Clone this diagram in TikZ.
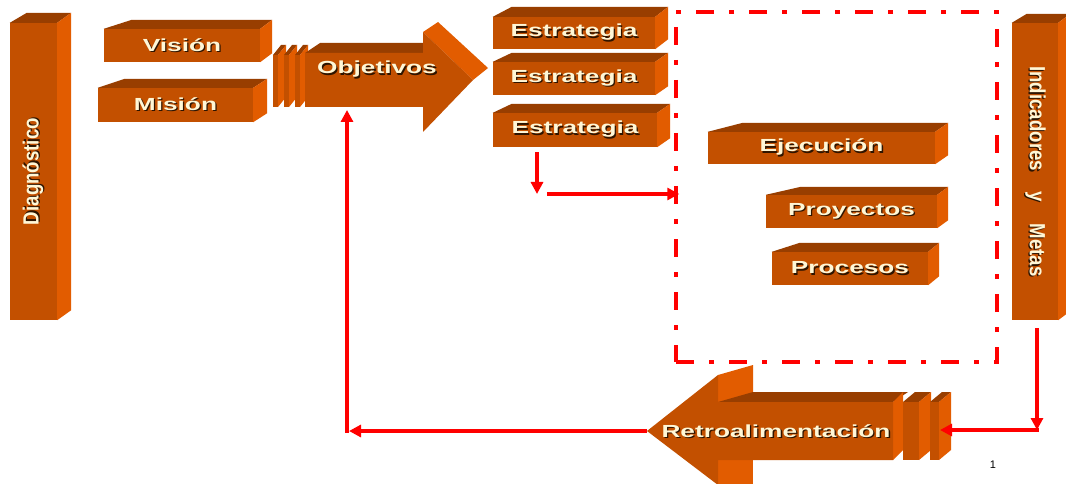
\documentclass[tikz,border=0pt]{standalone}
\usepackage{fontspec}
\setmainfont{Liberation Sans}
\newfontfamily\labfont[FakeStretch=1.5]{Liberation Sans}
\newfontfamily\narrowfont[FakeStretch=0.85]{Liberation Sans}
\usetikzlibrary{arrows.meta,calc}
\definecolor{frontc}{RGB}{195,80,0}
\definecolor{topc}{RGB}{152,62,0}
\definecolor{sidec}{RGB}{226,92,0}
\definecolor{labc}{RGB}{255,247,214}
\definecolor{shadowc}{RGB}{45,20,0}
\newcommand{\shtext}[1]{\makebox[0pt][l]{\hspace{1.3pt}\raisebox{-1.3pt}{\color{shadowc}#1}}#1}
% top and right faces of a box node: node, left dx, right dx, dy
\newcommand{\boxfaces}[4]{%
  \fill[topc] (#1.north west) -- ++(#2,#4) -- ($(#1.north east)+(#3,#4)$) -- (#1.north east) -- cycle;
  \fill[sidec] (#1.north east) -- ++(#3,#4) -- ($(#1.south east)+(#3,#4)$) -- (#1.south east) -- cycle;}
\tikzset{
  lab/.style={inner sep=0pt, text=labc, font=\labfont\bfseries\fontsize{17.5}{20}\selectfont},
  slab/.style={lab, fill=frontc},
  tallbox/.style={slab, font=\narrowfont\bfseries\fontsize{22}{24}\selectfont},
  zonebox/.style={draw=red, line width=3.5pt, dash pattern=on 18pt off 15pt on 5pt off 15pt, inner sep=0pt},
  redarrow/.style={red, line width=3.5pt, -{Triangle[length=12pt,width=12pt]}},
}
\begin{document}
\begin{tikzpicture}[x=1pt,y=1pt]
\useasboundingbox (0,-484) rectangle (1066,0);
\fill[white] (0,-484) rectangle (1066,0);

\node[tallbox, minimum width=47pt, minimum height=297pt] (diag) at (33.5,-171.5) {\rotatebox{90}{\shtext{Diagnóstico}}};
\boxfaces{diag}{17}{14}{10}
\node[slab, minimum width=156pt, minimum height=33pt] (vis) at (182,-45.5) {\shtext{Visión}};
\boxfaces{vis}{28}{12}{9}
\node[slab, minimum width=155pt, minimum height=34pt] (mis) at (175.5,-105) {\shtext{Misión}};
\boxfaces{mis}{27}{14}{9}

\foreach \px in {273,284,295} {
  \fill[topc] (\px,-55) -- ++(8,10) -- ++(5,0) -- ++(-8,-10) -- cycle;
  \fill[sidec] (\px+5,-55) -- ++(8,10) -- ++(0,-52) -- ++(-8,-10) -- cycle;
  \fill[frontc] (\px,-55) rectangle ++(5,-52);
}
\fill[topc] (305,-53) -- (320,-43) -- (433,-43) -- (423,-53) -- cycle;
\fill[sidec] (423,-32) -- (438,-22) -- (488,-68) -- (473,-80) -- cycle;
\fill[frontc] (305,-53) -- (423,-53) -- (423,-32) -- (473,-80) -- (423,-132) -- (423,-107) -- (305,-107) -- cycle;
\node[lab] (obj) at (377,-70) {\shtext{Objetivos}};

\node[slab, minimum width=162pt, minimum height=32pt] (est1) at (574,-33) {\shtext{Estrategia}};
\boxfaces{est1}{19}{13}{10}
\node[slab, minimum width=162pt, minimum height=33pt] (est2) at (574,-78.5) {\shtext{Estrategia}};
\boxfaces{est2}{19}{13}{9}
\node[slab, minimum width=164pt, minimum height=34pt] (est3) at (575,-130) {\shtext{Estrategia}};
\boxfaces{est3}{19}{13}{9}

\node[zonebox, minimum width=321pt, minimum height=350pt] (zone) at (836.5,-187) {};
\node[slab, minimum width=227pt, minimum height=32pt] (eje) at (821.5,-148) {\shtext{Ejecución}};
\boxfaces{eje}{35}{13}{9}
\node[slab, minimum width=171pt, minimum height=33pt] (proy) at (851.5,-211.5) {\shtext{Proyectos}};
\boxfaces{proy}{35}{11}{8}
\node[slab, minimum width=156pt, minimum height=33pt] (proc) at (850,-268.5) {\shtext{Procesos}};
\boxfaces{proc}{28}{11}{9}

\node[tallbox, minimum width=46pt, minimum height=297pt] (ind) at (1035,-171.5) {\rotatebox{-90}{\shtext{Indicadores\hspace{20pt}y\hspace{22pt}Metas}}};
\boxfaces{ind}{15}{12}{9}

\fill[sidec] (718,-375) -- (753,-365) -- (753,-402) -- (718,-402) -- cycle;
\fill[sidec] (718,-460) -- (753,-460) -- (753,-485) -- (718,-485) -- cycle;
\fill[topc] (718,-402) -- (753,-392) -- (908,-392) -- (893,-402) -- cycle;
\fill[sidec] (893,-402) -- (903,-392) -- (903,-450) -- (893,-460) -- cycle;
\foreach \px/\pw in {903/16,930/9} {
  \fill[topc] (\px,-402) -- ++(12,10) -- ++(\pw,0) -- ++(-12,-10) -- cycle;
  \fill[sidec] (\px+\pw,-402) -- ++(12,10) -- ++(0,-58) -- ++(-12,-10) -- cycle;
  \fill[frontc] (\px,-402) rectangle ++(\pw,-58);
}
\fill[frontc] (893,-402) -- (718,-402) -- (718,-375) -- (647,-431) -- (718,-485) -- (718,-460) -- (893,-460) -- cycle;
\node[lab] (retro) at (776,-432) {\shtext{Retroalimentación}};

\coordinate (retrotip) at (647,-431);
\coordinate (retroend) at (940,-430);
\coordinate (fbcorner) at (347,-431);
\coordinate (objbase) at (347,-110);
\coordinate (fbright) at (1037,-430);
\coordinate (drop) at (537,-194);
\coordinate (turn) at (547,-194);

\draw[redarrow] ([xshift=-38pt,yshift=-5pt]est3.south) -- (drop);
\draw[redarrow] (turn) -- ($(turn -| zone.west)+(5,0)$);
\draw[redarrow] ([xshift=2pt,yshift=-8pt]ind.south) -- (fbright);
\draw[redarrow] ([xshift=1.75pt]fbright) -- (retroend);
\draw[redarrow] (retrotip) -- ($(fbcorner)+(2,0)$);
\draw[redarrow] ([yshift=-1.75pt]fbcorner) -- (objbase);

\node[font=\fontsize{11}{12}\selectfont] (pnum) at (993,-465) {1};
\end{tikzpicture}
\end{document}
